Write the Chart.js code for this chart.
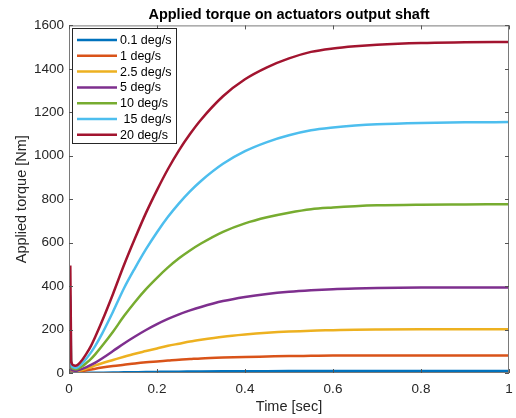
<!DOCTYPE html>
<html>
<head>
<meta charset="utf-8">
<script src="https://cdn.jsdelivr.net/npm/chart.js@4.4.1/dist/chart.umd.min.js"></script>
<style>
  html, body { margin: 0; padding: 0; background: #fff; }
  #wrap { width: 516px; height: 418px; }
</style>
</head>
<body>
<div id="wrap"><canvas id="torqueChart" width="516" height="418"></canvas></div>
<script>
// time axis [sec]
const timeSec = [0, 0.001, 0.003, 0.005, 0.01, 0.015, 0.02, 0.03, 0.04, 0.05, 0.06, 0.075,
  0.1, 0.125, 0.15, 0.175, 0.2, 0.225, 0.25, 0.275, 0.3, 0.35, 0.4, 0.45, 0.5, 0.55,
  0.6, 0.65, 0.7, 0.8, 0.9, 1];

// applied torque [Nm] per actuator speed
const torque01 = [0, 5, 7, 1, 0.5, 0.4, 0.4, 0.6, 0.8, 1, 1.2, 1.6, 2.3, 3.1, 3.8, 4.5,
  5.1, 5.7, 6.2, 6.6, 7, 7.6, 8.1, 8.4, 8.7, 8.8, 8.9, 9, 9, 9, 9, 9];
const torque1 = [0, 20, 25, 4, 3, 3, 4, 8, 12, 16, 20, 25, 32, 38, 44, 49, 53, 57, 61, 64,
  67, 71, 74, 76, 78, 79, 80, 80, 81, 81, 81, 81];
const torque25 = [0, 45, 60, 8, 6, 6, 8, 14, 20, 27, 35, 45, 60, 75, 89, 101, 113, 125, 135,
  145, 153, 167, 177, 185, 191, 195, 197, 199, 200, 201, 201, 201];
const torque5 = [0, 90, 120, 16, 11, 10, 12, 19, 27, 37, 48, 67, 101, 136, 168, 198, 225, 249,
  270, 288, 304, 331, 350, 364, 374, 381, 386, 389, 391, 393, 394, 394];
const torque10 = [0, 170, 240, 28, 19, 17, 20, 31, 47, 65, 87, 124, 190, 262, 327, 386, 438,
  486, 528, 564, 596, 650, 689, 717, 738, 754, 762, 768, 772, 775, 776, 777];
const torque15 = [0, 250, 360, 40, 26, 23, 27, 44, 68, 95, 126, 180, 282, 390, 483, 570, 648,
  719, 781, 836, 884, 963, 1021, 1063, 1094, 1117, 1130, 1139, 1145, 1151, 1154, 1155];
const torque20 = [0, 345, 489, 55, 36, 33, 38, 60, 90, 125, 168, 238, 364, 497, 620, 737, 842,
  939, 1025, 1100, 1166, 1274, 1352, 1407, 1448, 1478, 1494, 1504, 1511, 1519, 1522, 1524];

const speedLabels = ["0.1 deg/s", "1 deg/s", "2.5 deg/s", "5 deg/s", "10 deg/s", " 15 deg/s", "20 deg/s"];
const lineColors = ["#0072BD", "#D95319", "#EDB120", "#7E2F8E", "#77AC30", "#4DBEEE", "#A2142F"];
const allSeries = [torque01, torque1, torque25, torque5, torque10, torque15, torque20];

const xTicks = [0, 0.2, 0.4, 0.6, 0.8, 1];
const yTicks = [0, 200, 400, 600, 800, 1000, 1200, 1400, 1600];

const fontFamily = "'Liberation Sans', Arial, sans-serif";

// box round the plot with inward ticks, like matlab
const boxPlugin = {
  id: "boxPlugin",
  afterDraw(chart) {
    const ctx = chart.ctx;
    const ca = chart.chartArea;
    const xs = chart.scales.x;
    const ys = chart.scales.y;
    ctx.save();
    ctx.strokeStyle = "#7a7a7a";
    ctx.lineWidth = 1;
    ctx.strokeRect(ca.left + 0.5, ca.top + 0.5, ca.right - ca.left - 1, ca.bottom - ca.top - 1);
    ctx.strokeStyle = "#555";
    ctx.beginPath();
    xTicks.forEach(v => {
      const px = Math.round(xs.getPixelForValue(v)) + 0.5;
      ctx.moveTo(px, ca.bottom); ctx.lineTo(px, ca.bottom - 4);
      ctx.moveTo(px, ca.top); ctx.lineTo(px, ca.top + 4);
    });
    yTicks.forEach(v => {
      const py = Math.round(ys.getPixelForValue(v)) + 0.5;
      ctx.moveTo(ca.left, py); ctx.lineTo(ca.left + 4, py);
      ctx.moveTo(ca.right, py); ctx.lineTo(ca.right - 4, py);
    });
    ctx.stroke();
    ctx.restore();
  }
};

// legend box in the upper left corner
const legendPlugin = {
  id: "legendPlugin",
  afterDraw(chart) {
    const ctx = chart.ctx;
    const bx = 72, by = 28, bw = 104, bh = 115;
    ctx.save();
    ctx.fillStyle = "#fff";
    ctx.fillRect(bx, by, bw, bh);
    ctx.strokeStyle = "#262626";
    ctx.lineWidth = 1;
    ctx.strokeRect(bx + 0.5, by + 0.5, bw, bh);
    ctx.font = "12.5px " + fontFamily;
    ctx.textBaseline = "middle";
    chart.data.datasets.forEach((ds, i) => {
      const y = 40 + i * 15.8;
      ctx.strokeStyle = ds.borderColor;
      ctx.lineWidth = 2.5;
      ctx.beginPath();
      ctx.moveTo(77, y);
      ctx.lineTo(117, y);
      ctx.stroke();
      ctx.fillStyle = "#000";
      ctx.fillText(ds.label, 120, y + 0.5);
    });
    ctx.restore();
  }
};

const datasets = allSeries.map((vals, i) => ({
  label: speedLabels[i],
  data: timeSec.map((t, j) => ({ x: t, y: vals[j] })),
  borderColor: lineColors[i],
  backgroundColor: lineColors[i],
  borderWidth: 2.5,
  pointRadius: 0,
  cubicInterpolationMode: "monotone",
  order: allSeries.length - 1 - i
}));

new Chart(document.getElementById("torqueChart"), {
  type: "line",
  data: { datasets: datasets },
  options: {
    responsive: false,
    animation: false,
    devicePixelRatio: 1,
    layout: { padding: { top: 0, right: 7, bottom: 0, left: 0 } },
    plugins: {
      legend: { display: false },
      tooltip: { enabled: false },
      title: {
        display: true,
        text: "Applied torque on actuators output shaft",
        color: "#000",
        fullSize: false,
        font: { family: fontFamily, size: 14.5, weight: "bold" },
        padding: { top: 6, bottom: 2 }
      }
    },
    scales: {
      x: {
        type: "linear",
        min: 0,
        max: 1,
        grid: { display: false, drawTicks: false },
        border: { display: false },
        ticks: {
          stepSize: 0.2,
          padding: 8,
          color: "#262626",
          font: { family: fontFamily, size: 13.5 },
          maxRotation: 0,
          callback: v => String(parseFloat(v.toFixed(1)))
        },
        title: {
          display: true,
          text: "Time [sec]",
          color: "#262626",
          font: { family: fontFamily, size: 14.5 },
          padding: { top: 0, bottom: 2 }
        },
        afterFit: s => { s.height = 45; s.paddingLeft = 0; s.paddingRight = 0; }
      },
      y: {
        min: 0,
        max: 1600,
        grid: { display: false, drawTicks: false },
        border: { display: false },
        ticks: {
          stepSize: 200,
          padding: 5,
          color: "#262626",
          font: { family: fontFamily, size: 13.5 },
          callback: v => String(v)
        },
        title: {
          display: true,
          text: "Applied torque [Nm]",
          color: "#262626",
          font: { family: fontFamily, size: 14.5 },
          padding: { top: 13.3, bottom: 0 }
        },
        afterFit: s => { s.width = 69; s.paddingTop = 0; s.paddingBottom = 0; }
      }
    }
  },
  plugins: [boxPlugin, legendPlugin]
});
</script>
</body>
</html>
